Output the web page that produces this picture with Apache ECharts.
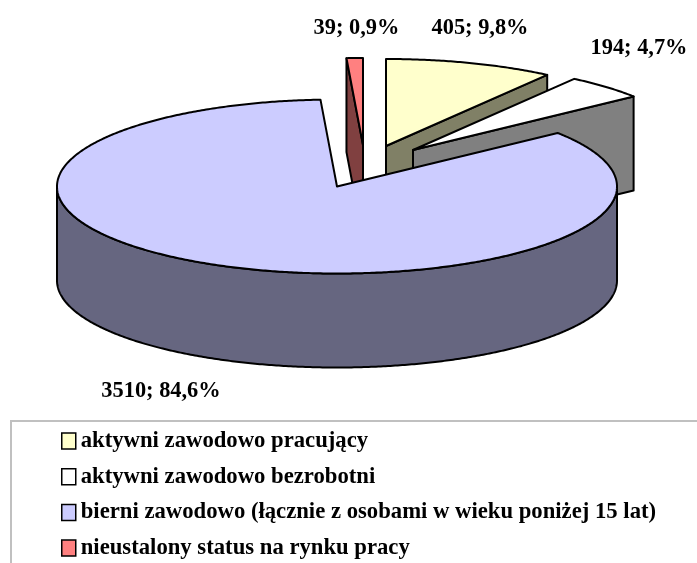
<!DOCTYPE html>
<html><head><meta charset="utf-8">
<style>html,body{margin:0;padding:0;background:#fff}#c{width:697px;height:563px}</style>
<script src="https://cdn.jsdelivr.net/npm/echarts@6/dist/echarts.min.js"></script>
</head><body><div id="c"></div>
<script>
const categories = ['aktywni zawodowo pracujący','aktywni zawodowo bezrobotni','bierni zawodowo (łącznie z osobami w wieku poniżej 15 lat)','nieustalony status na rynku pracy'];
const values = [405,194,3510,39];
const topColors = ['#FFFFCC','#FFFFFF','#CCCCFF','#FF8080'];
const wallColors = ['#808066','#808080','#666680','#804040'];

// pie layout (pixels)
const CX=337, CY=186.5, RX=280, RY=87, DEPTH=94;
const sliceShift = [[49,-40.5],[76,-36.5],[0,0],[26,-41.5]];
const labelPos = [[480,28],[639,48],[161,391],[356.5,28]];
const FONT='"Liberation Serif","Times New Roman",serif';
const total = values.reduce((a,b)=>a+b,0);
const starts = []; values.reduce((s,v,i)=>{starts[i]=s; return s+v/total*360;},0);

function pt(ox,oy,deg,dz){const r=deg*Math.PI/180;return [ox+RX*Math.sin(r),oy-RY*Math.cos(r)+(dz||0)];}
function arc(ox,oy,a,b,dz){const n=Math.max(2,Math.ceil(Math.abs(b-a)*2)),o=[];for(let i=0;i<=n;i++)o.push(pt(ox,oy,a+(b-a)*i/n,dz));return o;}
const stroke={stroke:'#000',lineWidth:2,lineJoin:'round'};
function poly(points,fill){return {type:'polygon',shape:{points},style:Object.assign({fill},stroke)};}

function sliceRender(i){
  return function(){
    const a=starts[i], b=a+values[i]/total*360;
    const ox=CX+sliceShift[i][0], oy=CY+sliceShift[i][1];
    const kids=[], apex=[ox,oy], apexB=[ox,oy+DEPTH];
    if(a>180&&a<360){const p=pt(ox,oy,a),q=pt(ox,oy,a,DEPTH);kids.push(poly([apex,p,q,apexB],wallColors[i]));}
    if(b>0&&b<180){const p=pt(ox,oy,b),q=pt(ox,oy,b,DEPTH);kids.push(poly([apex,p,q,apexB],wallColors[i]));}
    const fa=Math.max(a,90), fb=Math.min(b,270);
    if(fb>fa){kids.push(poly(arc(ox,oy,fa,fb,0).concat(arc(ox,oy,fb,fa,DEPTH)),wallColors[i]));}
    kids.push(poly([apex].concat(arc(ox,oy,a,b,0)),topColors[i]));
    const pct=(values[i]/total*100).toFixed(1).replace('.',',');
    kids.push({type:'text',style:{text:values[i]+'; '+pct+'%',x:labelPos[i][0],y:labelPos[i][1],align:'center',verticalAlign:'middle',font:'bold 22.4px '+FONT,fill:'#000'}});
    return {type:'group',children:kids};
  };
}
const order=[3,0,1,2];
const chart=echarts.init(document.getElementById('c'),null,{renderer:'canvas'});
chart.setOption({
  animation:false,
  backgroundColor:'#fff',
  legend:{
    data:categories.map(name=>({name,icon:'rect'})),
    orient:'vertical',left:11,top:421,height:400,
    padding:[8,300,60,50],
    borderColor:'#C0C0C0',borderWidth:2,
    itemWidth:14,itemHeight:16,itemGap:11.7,
    selectedMode:false,
    textStyle:{fontFamily:FONT,fontWeight:'bold',fontSize:22.7,color:'#000',lineHeight:24},
    itemStyle:{borderColor:'#000',borderWidth:1.5}
  },
  series:order.map(i=>({
    type:'custom',name:categories[i],coordinateSystem:'none',
    itemStyle:{color:topColors[i]},silent:true,
    data:[[values[i]]],renderItem:sliceRender(i)
  }))
});
</script></body></html>
